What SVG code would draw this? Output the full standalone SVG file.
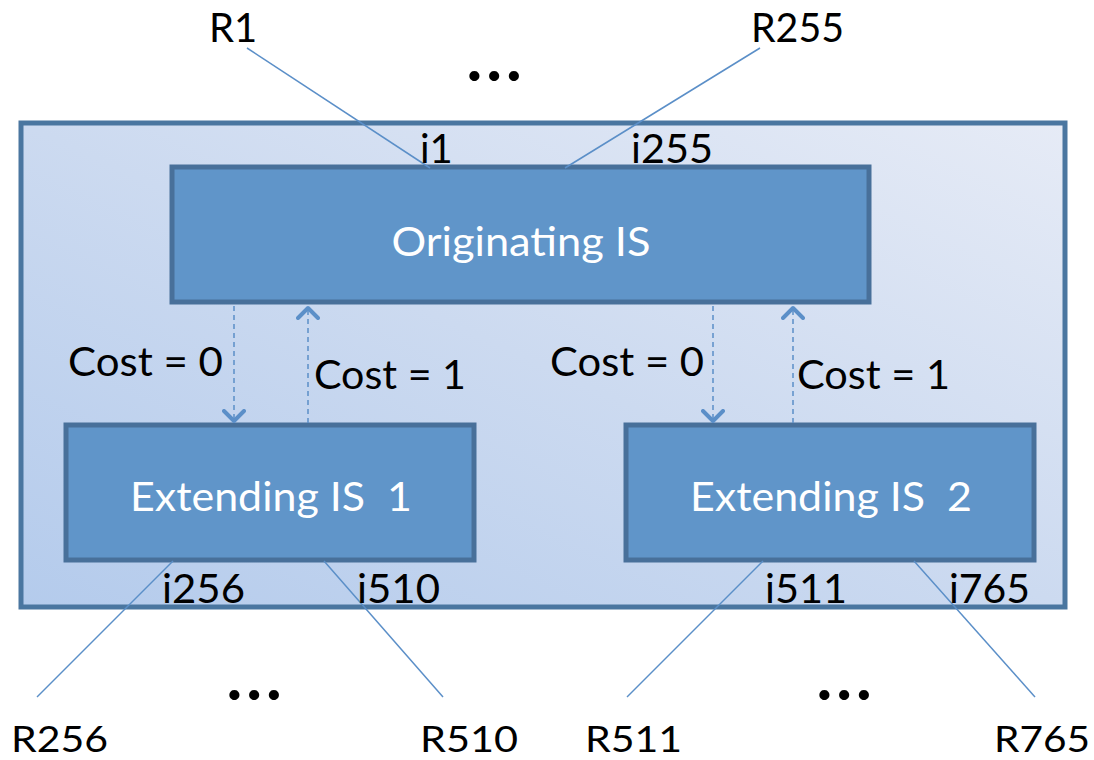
<svg xmlns="http://www.w3.org/2000/svg" width="1094" height="760" viewBox="0 0 1094 760">
<defs>
<linearGradient id="bg" x1="0" y1="1" x2="1" y2="0">
<stop offset="0" stop-color="#b4cbec"/>
<stop offset="0.5" stop-color="#ccdaf0"/>
<stop offset="1" stop-color="#e6ebf6"/>
</linearGradient>
<marker id="ah" viewBox="0 0 20 24" refX="12" refY="12" markerWidth="20" markerHeight="24" markerUnits="userSpaceOnUse" orient="auto">
<path d="M2,2 L12,12 L2,22" fill="none" stroke="#5b8fc8" stroke-width="4" stroke-linecap="round" stroke-linejoin="round"/>
</marker>
</defs>
<style>
.t{font-family:Lato,"Open Sans","Liberation Sans",sans-serif;font-size:40px;fill:#000}
.b{font-family:Lato,"Open Sans","Liberation Sans",sans-serif;font-size:36px;fill:#000}
.w{font-family:Lato,"Open Sans","Liberation Sans",sans-serif;font-size:40px;fill:#fff;text-anchor:middle}
.d{font-family:Lato,"Liberation Sans",sans-serif;font-size:62px;font-weight:900;fill:#000;letter-spacing:5px}
.node{fill:#6095c9;stroke:#48709a;stroke-width:5}
.ln{stroke:#5b8fc8;stroke-width:1.5;fill:none}
.da{stroke:#5b8fc8;stroke-width:1.5;stroke-dasharray:5 4;fill:none;marker-end:url(#ah)}
</style>
<rect width="1094" height="760" fill="#fff"/>
<g id="domain">
<rect x="21" y="123" width="1044" height="484" fill="url(#bg)" stroke="#4a76a0" stroke-width="5"/>
</g>
<g id="originating">
<rect class="node" x="172" y="167" width="697" height="135"/>
<text class="w" x="521" y="256" textLength="259" lengthAdjust="spacingAndGlyphs">Originating IS</text>
</g>
<g id="ext1">
<rect class="node" x="66" y="425" width="408" height="135"/>
<text class="w" x="271" y="511" xml:space="preserve" textLength="282" lengthAdjust="spacingAndGlyphs">Extending IS  1</text>
</g>
<g id="ext2">
<rect class="node" x="626" y="425" width="408" height="135"/>
<text class="w" x="831" y="511" xml:space="preserve" textLength="282" lengthAdjust="spacingAndGlyphs">Extending IS  2</text>
</g>
<g id="connectors">
<line class="ln" x1="247" y1="48" x2="430" y2="168"/>
<line class="ln" x1="760" y1="48" x2="565" y2="168"/>
<line class="ln" x1="173" y1="561" x2="37" y2="697"/>
<line class="ln" x1="324" y1="561" x2="443" y2="697"/>
<line class="ln" x1="763" y1="561" x2="627" y2="697"/>
<line class="ln" x1="914" y1="561" x2="1035" y2="697"/>
<path class="da" d="M234,306 V421"/>
<path class="da" d="M308,423 V308"/>
<path class="da" d="M713,306 V421"/>
<path class="da" d="M793,423 V308"/>
</g>
<g id="labels">
<text class="t" x="209" y="42">R1</text>
<text class="t" x="751" y="42" textLength="93" lengthAdjust="spacingAndGlyphs">R255</text>
<text class="d" x="467" y="81">...</text>
<text class="t" x="420" y="163">i1</text>
<text class="t" x="631" y="163" textLength="82" lengthAdjust="spacingAndGlyphs">i255</text>
<text class="t" x="68" y="376" textLength="155" lengthAdjust="spacingAndGlyphs">Cost = 0</text>
<text class="t" x="314" y="389" textLength="152" lengthAdjust="spacingAndGlyphs">Cost = 1</text>
<text class="t" x="550" y="376" textLength="154" lengthAdjust="spacingAndGlyphs">Cost = 0</text>
<text class="t" x="797" y="389" textLength="153" lengthAdjust="spacingAndGlyphs">Cost = 1</text>
<text class="t" x="162" y="603" textLength="83" lengthAdjust="spacingAndGlyphs">i256</text>
<text class="t" x="357" y="603" textLength="83" lengthAdjust="spacingAndGlyphs">i510</text>
<text class="t" x="765" y="603" textLength="82" lengthAdjust="spacingAndGlyphs">i511</text>
<text class="t" x="949" y="603" textLength="81" lengthAdjust="spacingAndGlyphs">i765</text>
<text class="d" x="227" y="700">...</text>
<text class="d" x="817" y="700">...</text>
<text class="b" x="11" y="752" textLength="97" lengthAdjust="spacingAndGlyphs">R256</text>
<text class="b" x="420" y="752" textLength="98" lengthAdjust="spacingAndGlyphs">R510</text>
<text class="b" x="585" y="752" textLength="97" lengthAdjust="spacingAndGlyphs">R511</text>
<text class="b" x="994" y="752" textLength="96" lengthAdjust="spacingAndGlyphs">R765</text>
</g>
</svg>
